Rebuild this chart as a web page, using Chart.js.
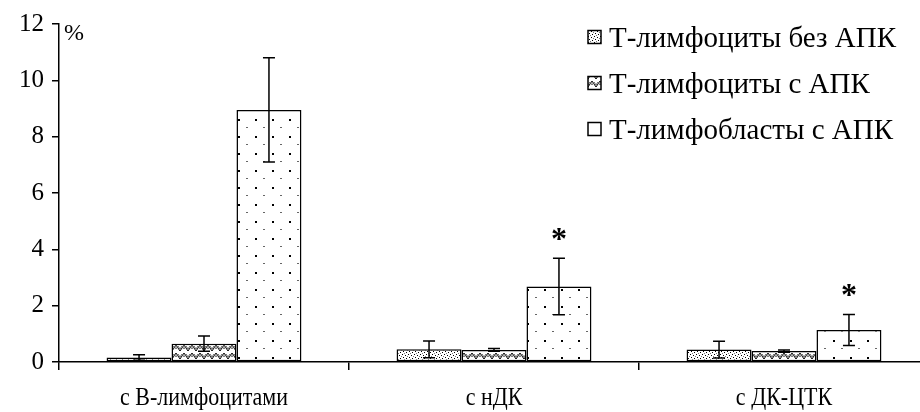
<!DOCTYPE html>
<html>
<head>
<meta charset="utf-8">
<title>Т-лимфоциты</title>
<script src="https://cdn.jsdelivr.net/npm/chart.js@4/dist/chart.umd.min.js"></script>
<style>
  html, body { margin: 0; padding: 0; background: #fff; overflow: hidden; }
  #wrap { width: 935px; height: 412px; }
</style>
</head>
<body>
<div id="wrap"><canvas id="c" width="935" height="412"></canvas></div>
<script>
// Categories and series
const categories = ['с В-лимфоцитами', 'с нДК', 'с ДК-ЦТК'];
const seriesNames = ['Т-лимфоциты без АПК', 'Т-лимфоциты с АПК', 'Т-лимфобласты с АПК'];

// Mean values, %
const tLymphNoApc = [0.16, 0.45, 0.44];
const tLymphApc = [0.65, 0.43, 0.39];
const tBlastApc = [8.95, 2.68, 1.14];

// Error (±) values, %
const tLymphNoApcErr = [0.10, 0.30, 0.30];
const tLymphApcErr = [0.27, 0.05, 0.04];
const tBlastApcErr = [1.85, 1.00, 0.55];

// Significance marks above the blast bars
const significance = ['', '*', '*'];

// Y axis range
const yMin = 0, yMax = 12, yStep = 2;

const FONT = "'Liberation Serif', 'Times New Roman', serif";

// ---- fill patterns ----
const ctxMain = document.getElementById('c').getContext('2d');
function pattern(w, h, draw) {
  const c = document.createElement('canvas');
  c.width = w; c.height = h;
  const g = c.getContext('2d');
  g.fillStyle = '#fff';
  g.fillRect(0, 0, w, h);
  draw(g);
  return ctxMain.createPattern(c, 'repeat');
}
// dense stipple
const densePattern = pattern(6, 6, g => {
  g.fillStyle = '#000';
  g.fillRect(0, 0, 1, 1);
  g.fillRect(3, 1, 1, 1);
  g.fillRect(1, 3, 1, 1);
  g.fillRect(4, 4, 1, 1);
  g.fillStyle = '#777';
  g.fillRect(2, 5, 1, 1);
  g.fillRect(5, 2, 1, 1);
});
// zigzag hatch
const zigzagPattern = pattern(8, 8, g => {
  g.strokeStyle = '#000';
  g.lineWidth = 1;
  g.beginPath();
  g.moveTo(0, 1); g.lineTo(4, 7); g.lineTo(8, 1);
  g.stroke();
  g.strokeStyle = '#666';
  g.beginPath();
  g.moveTo(0, 5); g.lineTo(2, 2); g.lineTo(4, 5); g.lineTo(6, 2); g.lineTo(8, 5);
  g.stroke();
});
// sparse dots
const sparsePattern = pattern(17, 17, g => {
  g.fillStyle = '#000';
  g.fillRect(0, 0, 2, 2);
  g.fillStyle = '#666';
  g.fillRect(8, 8, 2, 1);
});

const errors = [tLymphNoApcErr, tLymphApcErr, tBlastApcErr];
const legendFills = [densePattern, zigzagPattern, '#fff'];

// error bars, significance marks, category labels, unit label and legend
const overlay = {
  id: 'overlay',
  afterDatasetsDraw(chart) {
    const ctx = chart.ctx;
    const y = chart.scales.y;
    ctx.save();
    ctx.strokeStyle = '#000';
    ctx.lineWidth = 1.5;
    chart.data.datasets.forEach((ds, i) => {
      const meta = chart.getDatasetMeta(i);
      meta.data.forEach((bar, j) => {
        const v = ds.data[j], e = errors[i][j];
        const yt = y.getPixelForValue(v + e);
        const yb = y.getPixelForValue(Math.max(v - e, 0));
        ctx.beginPath();
        ctx.moveTo(bar.x, yt); ctx.lineTo(bar.x, yb);
        ctx.moveTo(bar.x - 6, yt); ctx.lineTo(bar.x + 6, yt);
        ctx.moveTo(bar.x - 6, yb); ctx.lineTo(bar.x + 6, yb);
        ctx.stroke();
        if (i === 2 && significance[j]) {
          ctx.fillStyle = '#000';
          ctx.font = 'bold 32px ' + FONT;
          ctx.textAlign = 'center';
          ctx.textBaseline = 'alphabetic';
          ctx.fillText(significance[j], bar.x, yt - 9);
        }
      });
    });
    ctx.restore();
  },
  afterDraw(chart) {
    const ctx = chart.ctx;
    const area = chart.chartArea;
    const xs = chart.scales.x;
    ctx.save();
    ctx.fillStyle = '#000';

    // category labels, slightly tall serif
    ctx.font = '22px ' + FONT;
    ctx.textAlign = 'center';
    ctx.textBaseline = 'alphabetic';
    chart.data.labels.forEach((lab, i) => {
      ctx.save();
      ctx.translate(xs.getPixelForTick(i), 405);
      ctx.scale(1, 1.17);
      ctx.fillText(lab, 0, 0);
      ctx.restore();
    });

    ctx.font = '24px ' + FONT;
    ctx.textAlign = 'left';
    ctx.fillText('%', area.left + 5, 40);

    // legend
    const bx = 588, tx = 609, rows = [37, 83, 129], bs = 13;
    chart.data.datasets.forEach((ds, i) => {
      const cy = rows[i];
      ctx.fillStyle = legendFills[i];
      ctx.fillRect(bx, cy - bs / 2, bs, bs);
      ctx.strokeStyle = '#000';
      ctx.lineWidth = 1.5;
      ctx.strokeRect(bx, cy - bs / 2, bs, bs);
      ctx.fillStyle = '#000';
      ctx.font = '29px ' + FONT;
      ctx.textBaseline = 'alphabetic';
      ctx.fillText(ds.label, tx, cy + 9.5);
    });
    ctx.restore();
  }
};

new Chart(document.getElementById('c'), {
  type: 'bar',
  data: {
    labels: categories,
    datasets: [
      { label: seriesNames[0], data: tLymphNoApc, backgroundColor: densePattern },
      { label: seriesNames[1], data: tLymphApc, backgroundColor: zigzagPattern },
      { label: seriesNames[2], data: tBlastApc, backgroundColor: sparsePattern }
    ]
  },
  options: {
    responsive: false,
    animation: false,
    devicePixelRatio: 1,
    layout: { padding: { top: 24, right: 6, left: 0, bottom: 0 } },
    datasets: {
      bar: {
        borderColor: '#000',
        borderWidth: 1.5,
        borderSkipped: false,
        barPercentage: 1,
        categoryPercentage: 0.672
      }
    },
    plugins: {
      legend: { display: false },
      tooltip: { enabled: false }
    },
    scales: {
      x: {
        offset: true,
        grid: {
          offset: true,
          drawOnChartArea: false,
          drawTicks: true,
          tickLength: 8,
          color: '#000',
          lineWidth: 1.5
        },
        border: { display: true, color: '#000', width: 1.5 },
        ticks: { display: false },
        afterFit(s) { s.height = 50; }
      },
      y: {
        min: yMin,
        max: yMax,
        ticks: { stepSize: yStep, color: '#000', font: { family: FONT, size: 25 }, padding: 8 },
        grid: {
          drawOnChartArea: false,
          drawTicks: true,
          tickLength: 7,
          color: '#000',
          lineWidth: 1.5
        },
        border: { display: true, color: '#000', width: 1.5 },
        afterFit(s) { s.width = 59; }
      }
    }
  },
  plugins: [overlay]
});
</script>
</body>
</html>
